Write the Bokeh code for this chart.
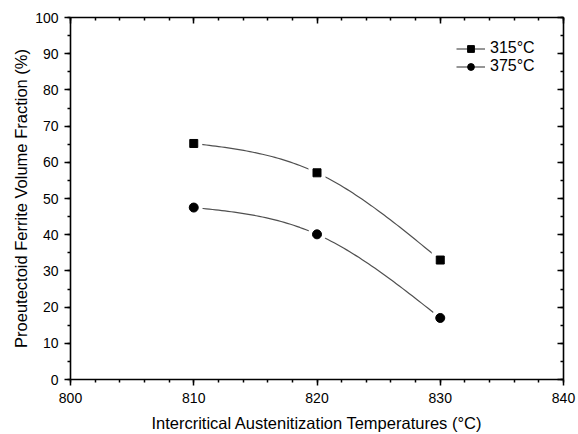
import numpy as np
from bokeh.plotting import figure
from bokeh.models import (Range1d, LinearAxis, SingleIntervalTicker, Legend, LegendItem,
                          CustomJSTickFormatter, Title)
from bokeh.embed import file_html
from bokeh.resources import INLINE

temps = [810, 820, 830]
frac_315 = [65.2, 57.1, 33.0]
frac_375 = [47.5, 40.1, 17.0]
series_labels = ["315°C", "375°C"]
x_label = "Intercritical Austenitization Temperatures (°C)"
y_label = "Proeutectoid Ferrite Volume Fraction (%)"


def natural_spline(x, y, n=80):
    x = np.asarray(x, float)
    y = np.asarray(y, float)
    k = len(x)
    h = np.diff(x)
    A = np.zeros((k, k))
    r = np.zeros(k)
    A[0, 0] = A[-1, -1] = 1
    for i in range(1, k - 1):
        A[i, i - 1] = h[i - 1]
        A[i, i] = 2 * (h[i - 1] + h[i])
        A[i, i + 1] = h[i]
        r[i] = 6 * ((y[i + 1] - y[i]) / h[i] - (y[i] - y[i - 1]) / h[i - 1])
    M = np.linalg.solve(A, r)
    xs = np.linspace(x[0], x[-1], n)
    idx = np.clip(np.searchsorted(x, xs, side="right") - 1, 0, k - 2)
    x0 = x[idx]
    x1 = x[idx + 1]
    hh = x1 - x0
    a = (x1 - xs) / hh
    b = (xs - x0) / hh
    ys = a * y[idx] + b * y[idx + 1] + ((a ** 3 - a) * M[idx] + (b ** 3 - b) * M[idx + 1]) * hh ** 2 / 6
    return xs, ys


FONT = "Liberation Sans"

p = figure(width=578, height=434, output_backend="svg", toolbar_location=None,
           x_range=Range1d(800, 840), y_range=Range1d(0, 100),
           min_border_left=70, min_border_right=15, min_border_top=17, min_border_bottom=54,
           x_axis_label=x_label)
p.grid.visible = False
p.outline_line_color = None
p.background_fill_color = "white"
p.border_fill_color = "white"

p.xaxis.ticker = SingleIntervalTicker(interval=10, num_minor_ticks=5)
p.yaxis.ticker = SingleIntervalTicker(interval=10, num_minor_ticks=2)

for ax in (p.xaxis[0], p.yaxis[0]):
    ax.axis_line_width = 1.6
    ax.axis_line_color = "black"
    ax.major_tick_line_width = 1.5
    ax.minor_tick_line_width = 1.5
    ax.major_tick_line_color = "black"
    ax.minor_tick_line_color = "black"
    ax.major_tick_in = 0
    ax.major_tick_out = 6
    ax.minor_tick_in = 0
    ax.minor_tick_out = 3
    ax.major_label_text_font = FONT
    ax.major_label_text_font_size = "14px"
    ax.major_label_text_color = "black"
    ax.axis_label_text_font = FONT
    ax.axis_label_text_font_style = "normal"
    ax.axis_label_text_color = "black"
p.xaxis.axis_label_text_font_size = "16.5px"
p.xaxis.major_label_standoff = 7
p.yaxis.major_label_standoff = 6
p.xaxis.axis_label_standoff = 8

ytitle = Title(text=y_label, align="center", text_font=FONT, text_font_size="16.5px",
               text_font_style="normal", text_color="black", standoff=6, offset=0)
p.add_layout(ytitle, "left")

blank = CustomJSTickFormatter(code="return '';")
top = LinearAxis(ticker=SingleIntervalTicker(interval=10, num_minor_ticks=5), formatter=blank)
right = LinearAxis(ticker=SingleIntervalTicker(interval=10, num_minor_ticks=2), formatter=blank)
for ax in (top, right):
    ax.axis_line_width = 1.6
    ax.axis_line_color = "black"
    ax.major_tick_line_width = 1.5
    ax.minor_tick_line_width = 1.5
    ax.major_tick_in = 6
    ax.major_tick_out = 0
    ax.minor_tick_in = 3
    ax.minor_tick_out = 0
    ax.major_label_standoff = 0
p.add_layout(top, "above")
p.add_layout(right, "right")

items = []
for vals, lab, marker, msize in ((frac_315, series_labels[0], "square", 8),
                                  (frac_375, series_labels[1], "circle", 9)):
    xs, ys = natural_spline(temps, vals)
    ln = p.line(xs, ys, line_color="#505050", line_width=1.2)
    wh = p.scatter(temps, vals, marker=marker, size=msize + 9, fill_color="white", line_color=None)
    bk = p.scatter(temps, vals, marker=marker, size=msize, fill_color="black", line_color="black")
    items.append(LegendItem(label=lab, renderers=[ln, wh, bk]))

legend = Legend(items=items, location=(386, 304), padding=0, margin=0,
                glyph_width=29, glyph_height=17, label_height=17, label_standoff=5, spacing=0,
                border_line_alpha=0, background_fill_alpha=0,
                label_text_font=FONT, label_text_font_size="16px", label_text_color="black")
p.add_layout(legend)

open("out.html", "w").write(file_html(p, INLINE))
